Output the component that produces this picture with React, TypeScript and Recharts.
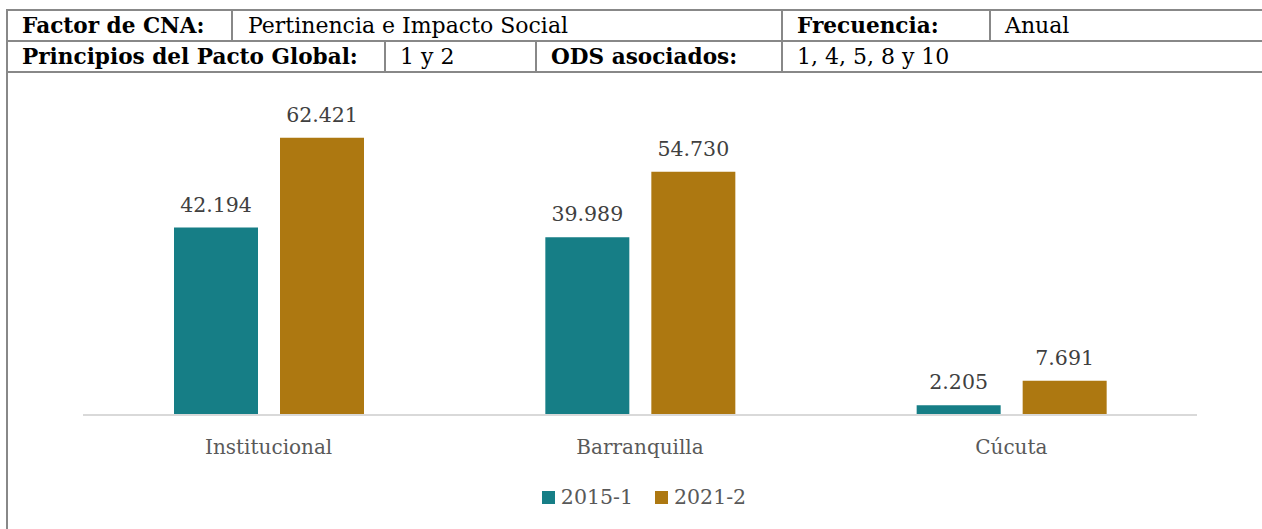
import React from 'react';
import { BarChart, Bar, XAxis, YAxis, Legend, LabelList } from 'recharts';

const categories = ['Institucional', 'Barranquilla', 'Cúcuta'];
const values2015 = [42194, 39989, 2205];
const values2021 = [62421, 54730, 7691];
const seriesNames = ['2015-1', '2021-2'];

const data = categories.map((c, i) => ({ name: c, a: values2015[i], b: values2021[i] }));

const TEAL = '#167E86';
const GOLD = '#AD7811';
const LINE = '#888888';
const SERIF = '"DejaVu Serif", serif';

const fmt = (v: any) => Number(v).toLocaleString('de-DE');

const hLine = (top: number, left: number, width: number) => (
  <div style={{ position: 'absolute', top, left, width, height: 2, background: LINE }} />
);
const vLine = (left: number, top: number, height: number) => (
  <div style={{ position: 'absolute', top, left, width: 2, height, background: LINE }} />
);
const cell = (left: number, top: number, text: string, bold: boolean) => (
  <div
    style={{
      position: 'absolute',
      left,
      top,
      height: 29,
      lineHeight: '29px',
      fontFamily: SERIF,
      fontSize: bold ? 21.6 : 22,
      fontWeight: bold ? 'bold' : 'normal',
      color: '#000',
      whiteSpace: 'nowrap',
    }}
  >
    {text}
  </div>
);

const renderLegend = (props: any) => {
  const items = props.payload || [];
  return (
    <div style={{ display: 'flex', justifyContent: 'center', alignItems: 'center', fontFamily: SERIF, fontSize: 20.5, color: '#595959' }}>
      {items.map((it: any, i: number) => (
        <div key={i} style={{ display: 'flex', alignItems: 'center', marginLeft: i === 0 ? 0 : 22 }}>
          <div style={{ width: 13, height: 13, background: it.color, marginRight: 6 }} />
          <span>{it.value}</span>
        </div>
      ))}
    </div>
  );
};

export default function App() {
  return (
    <div style={{ position: 'absolute', left: 0, top: 0, width: 1262, height: 529, background: '#fff', overflow: 'hidden' }}>
      <div style={{ position: 'absolute', left: 0, top: 0 }}>
        <BarChart
          width={1262}
          height={529}
          data={data}
          margin={{ top: 104, right: 65, bottom: 84, left: 83 }}
          barSize={84}
          barGap={22}
        >
          <XAxis
            dataKey="name"
            axisLine={{ stroke: '#D9D9D9', strokeWidth: 2 }}
            tickLine={false}
            tickMargin={19}
            height={30}
            tick={{ fill: '#595959', fontFamily: SERIF, fontSize: 20 }}
          />
          <YAxis hide domain={[0, 70000]} />
          <Legend
            layout="horizontal"
            verticalAlign="middle"
            align="center"
            content={renderLegend}
            wrapperStyle={{ top: 485, left: 0, width: 1288 }}
          />
          <Bar dataKey="a" name={seriesNames[0]} fill={TEAL} isAnimationActive={false}>
            <LabelList dataKey="a" position="top" offset={16} formatter={fmt} style={{ fill: '#404040', fontFamily: SERIF, fontSize: 20.5 }} />
          </Bar>
          <Bar dataKey="b" name={seriesNames[1]} fill={GOLD} isAnimationActive={false}>
            <LabelList dataKey="b" position="top" offset={16} formatter={fmt} style={{ fill: '#404040', fontFamily: SERIF, fontSize: 20.5 }} />
          </Bar>
        </BarChart>
      </div>
      {hLine(9, 6, 1262)}
      {hLine(40, 6, 1262)}
      {hLine(71, 6, 1262)}
      {vLine(6, 9, 520)}
      {vLine(231, 9, 32)}
      {vLine(781, 9, 64)}
      {vLine(989, 9, 32)}
      {vLine(384, 40, 32)}
      {vLine(535, 40, 32)}
      {cell(22, 11, 'Factor de CNA:', true)}
      {cell(248, 11, 'Pertinencia e Impacto Social', false)}
      {cell(797, 11, 'Frecuencia:', true)}
      {cell(1005, 11, 'Anual', false)}
      {cell(22, 42, 'Principios del Pacto Global:', true)}
      {cell(400, 42, '1 y 2', false)}
      {cell(551, 42, 'ODS asociados:', true)}
      {cell(797, 42, '1, 4, 5, 8 y 10', false)}
    </div>
  );
}
